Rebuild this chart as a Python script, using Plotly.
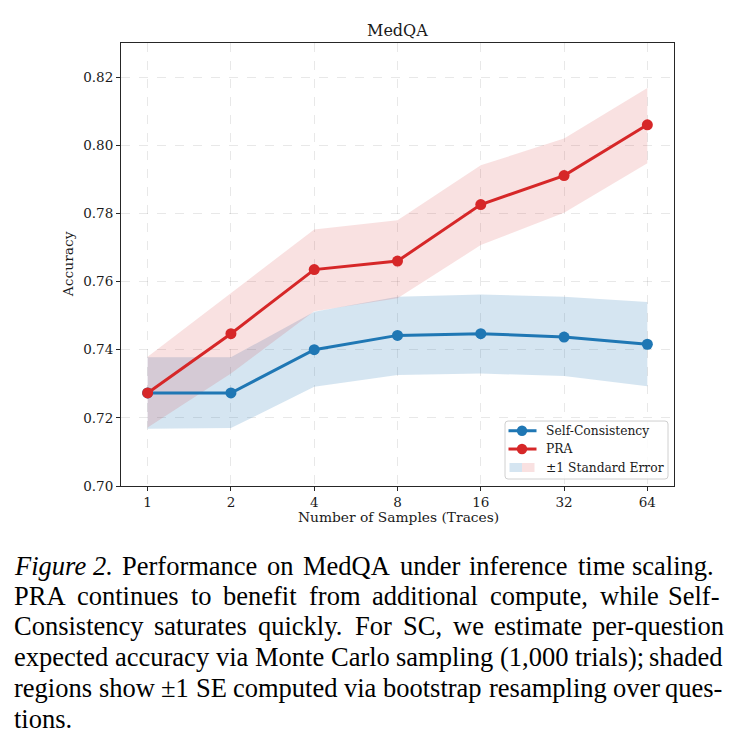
import plotly.graph_objects as go
import math

# ---------------- data ----------------
samples = [1, 2, 4, 8, 16, 32, 64]
tick_labels = ["1", "2", "4", "8", "16", "32", "64"]
y_ticks = [0.70, 0.72, 0.74, 0.76, 0.78, 0.80, 0.82]

sc_acc = [0.7273, 0.7273, 0.7400, 0.7442, 0.7447, 0.7437, 0.7416]
sc_upper = [0.7378, 0.7378, 0.7511, 0.7555, 0.7562, 0.7555, 0.7540]
sc_lower = [0.7168, 0.7170, 0.7291, 0.7326, 0.7330, 0.7323, 0.7293]

pra_acc = [0.7273, 0.7447, 0.7635, 0.7660, 0.7826, 0.7911, 0.8060]
pra_upper = [0.7379, 0.7565, 0.7753, 0.7780, 0.7941, 0.8020, 0.8168]
pra_lower = [0.7172, 0.7330, 0.7513, 0.7551, 0.7707, 0.7802, 0.7947]

series_names = ["Self-Consistency", "PRA"]
band_label = "±1 Standard Error"
title_text = "MedQA"
x_title = "Number of Samples (Traces)"
y_title = "Accuracy"

caption_lines = [
    "<i>Figure</i> <i>2.</i> Performance on MedQA under inference time scaling.",
    "PRA continues to benefit from additional compute, while Self-",
    "Consistency saturates quickly. For SC, we estimate per-question",
    "expected accuracy via Monte Carlo sampling (1,000 trials); shaded",
    "regions show ±1 SE computed via bootstrap resampling over ques-",
    "tions.",
]

# ---------------- styling ----------------
BLUE = "#1f77b4"
RED = "#d62728"
BLUE_FILL = "rgba(31,119,180,0.19)"
RED_FILL = "rgba(214,39,40,0.14)"
CHART_FONT = "DejaVu Serif"
CAP_FONT = "Liberation Serif"

W, H = 740, 751
PL, PR, PT, PB = 121, 674, 42.7, 486  # plot area in pixels


def px(x):
    return (x - PL) / (PR - PL)


def py(y):
    return (PB - y) / (PB - PT)


fig = go.Figure()

# bands
fig.add_trace(go.Scatter(
    x=samples + samples[::-1], y=sc_upper + sc_lower[::-1],
    fill="toself", fillcolor=BLUE_FILL, line=dict(width=0),
    mode="lines", hoverinfo="skip", showlegend=False))
fig.add_trace(go.Scatter(
    x=samples + samples[::-1], y=pra_upper + pra_lower[::-1],
    fill="toself", fillcolor=RED_FILL, line=dict(width=0),
    mode="lines", hoverinfo="skip", showlegend=False))

# lines
fig.add_trace(go.Scatter(
    x=samples, y=sc_acc, mode="lines+markers", name=series_names[0],
    line=dict(color=BLUE, width=3), marker=dict(size=11, color=BLUE),
    showlegend=False))
fig.add_trace(go.Scatter(
    x=samples, y=pra_acc, mode="lines+markers", name=series_names[1],
    line=dict(color=RED, width=3), marker=dict(size=11, color=RED),
    showlegend=False))

xr = [math.log10(2 ** -0.32), math.log10(2 ** 6.32)]

axis_common = dict(
    showline=True, mirror=True, linecolor="#262626", linewidth=1,
    ticks="outside", ticklen=4, tickwidth=1, tickcolor="#262626",
    showgrid=True, gridcolor="rgba(0,0,0,0.09)", griddash="dash", gridwidth=1,
    zeroline=False,
    tickfont=dict(family=CHART_FONT, size=13.5, color="#1a1a1a"),
)

fig.update_xaxes(type="log", range=xr, tickvals=samples, ticktext=tick_labels,
                 **axis_common)
fig.update_yaxes(range=[0.70, 0.83], tickvals=y_ticks,
                 ticktext=[f"{v:.2f}" for v in y_ticks], **axis_common)

shapes = []
annotations = []

# title and axis titles
annotations.append(dict(text=title_text, xref="paper", yref="paper",
                        x=px(397.5), y=py(30), xanchor="center", yanchor="middle",
                        showarrow=False, font=dict(family=CHART_FONT, size=16, color="#1a1a1a")))
annotations.append(dict(text=x_title, xref="paper", yref="paper",
                        x=px(398.5), y=py(517), xanchor="center", yanchor="middle",
                        showarrow=False, font=dict(family=CHART_FONT, size=13.8, color="#1a1a1a")))
annotations.append(dict(text=y_title, xref="paper", yref="paper",
                        x=px(68), y=py(264), xanchor="center", yanchor="middle", textangle=-90,
                        showarrow=False, font=dict(family=CHART_FONT, size=13.8, color="#1a1a1a")))

# ---------------- legend (manual, matplotlib style) ----------------
lx0, lx1, ly0, ly1, r = 505, 668, 421, 479, 3
path = (f"M {px(lx0 + r)},{py(ly0)} L {px(lx1 - r)},{py(ly0)} "
        f"Q {px(lx1)},{py(ly0)} {px(lx1)},{py(ly0 + r)} "
        f"L {px(lx1)},{py(ly1 - r)} Q {px(lx1)},{py(ly1)} {px(lx1 - r)},{py(ly1)} "
        f"L {px(lx0 + r)},{py(ly1)} Q {px(lx0)},{py(ly1)} {px(lx0)},{py(ly1 - r)} "
        f"L {px(lx0)},{py(ly0 + r)} Q {px(lx0)},{py(ly0)} {px(lx0 + r)},{py(ly0)} Z")
shapes.append(dict(type="path", path=path, xref="paper", yref="paper",
                   fillcolor="rgba(255,255,255,0.85)", line=dict(color="#d0d0d0", width=1)))

legend_rows = [430.7, 449.0, 467.5]
for yy, col, name in zip(legend_rows[:2], [BLUE, RED], series_names):
    shapes.append(dict(type="line", xref="paper", yref="paper",
                       x0=px(508.5), x1=px(536.5), y0=py(yy), y1=py(yy),
                       line=dict(color=col, width=3)))
    shapes.append(dict(type="circle", xref="paper", yref="paper",
                       x0=px(522 - 5.2), x1=px(522 + 5.2), y0=py(yy - 5.2), y1=py(yy + 5.2),
                       fillcolor=col, line=dict(color=col, width=0)))
    annotations.append(dict(text=name, xref="paper", yref="paper", x=px(544), y=py(yy),
                            xanchor="left", yanchor="middle", showarrow=False,
                            font=dict(family=CHART_FONT, size=12.3, color="#1a1a1a")))
yy = legend_rows[2]
shapes.append(dict(type="rect", xref="paper", yref="paper",
                   x0=px(509.5), x1=px(522), y0=py(yy - 4.5), y1=py(yy + 4.5),
                   fillcolor=BLUE_FILL, line=dict(width=0)))
shapes.append(dict(type="rect", xref="paper", yref="paper",
                   x0=px(522), x1=px(534.5), y0=py(yy - 4.5), y1=py(yy + 4.5),
                   fillcolor=RED_FILL, line=dict(width=0)))
annotations.append(dict(text=band_label, xref="paper", yref="paper", x=px(544), y=py(yy),
                        xanchor="left", yanchor="middle", showarrow=False,
                        font=dict(family=CHART_FONT, size=12.3, color="#1a1a1a")))

# ---------------- caption (justified, Times metrics) ----------------
TW = {' ': 250, 'a': 444, 'b': 500, 'c': 444, 'd': 500, 'e': 444, 'f': 333, 'g': 500,
      'h': 500, 'i': 278, 'j': 278, 'k': 500, 'l': 278, 'm': 778, 'n': 500, 'o': 500,
      'p': 500, 'q': 500, 'r': 333, 's': 389, 't': 278, 'u': 500, 'v': 500, 'w': 722,
      'x': 500, 'y': 500, 'z': 444, 'A': 722, 'B': 667, 'C': 667, 'D': 722, 'E': 611,
      'F': 556, 'G': 722, 'H': 722, 'I': 333, 'J': 389, 'K': 722, 'L': 611, 'M': 889,
      'N': 722, 'O': 722, 'P': 556, 'Q': 722, 'R': 667, 'S': 556, 'T': 611, 'U': 722,
      'V': 722, 'W': 944, 'X': 722, 'Y': 722, 'Z': 611, '.': 250, ',': 250, '-': 333,
      '(': 333, ')': 333, ';': 278, ':': 278, '±': 564}
for d in "0123456789":
    TW[d] = 500

CAP_SIZE = 26.5
cap_left = 13
cap_rights = [715, 721, 725, 724, 723, None]
baselines = [574.5, 605, 635.5, 666, 697, 728]


def word_width(w):
    plain = w.replace("<i>", "").replace("</i>", "")
    return sum(TW.get(c, 500) for c in plain) / 1000.0 * CAP_SIZE


for line, right, base in zip(caption_lines, cap_rights, baselines):
    words = line.split(" ")
    ymid = py(base - 0.3375 * CAP_SIZE)
    if right is None:
        annotations.append(dict(text=line, xref="paper", yref="paper", x=px(cap_left), y=ymid,
                                xanchor="left", yanchor="middle", showarrow=False, borderpad=0,
                                font=dict(family=CAP_FONT, size=CAP_SIZE, color="black")))
        continue
    widths = [word_width(w) for w in words]
    gap = (right - cap_left - sum(widths)) / (len(words) - 1)
    xpos = cap_left
    for i, (w, ww) in enumerate(zip(words, widths)):
        if i == len(words) - 1:
            annotations.append(dict(text=w, xref="paper", yref="paper", x=px(right), y=ymid,
                                    xanchor="right", yanchor="middle", showarrow=False, borderpad=0,
                                    font=dict(family=CAP_FONT, size=CAP_SIZE, color="black")))
        else:
            annotations.append(dict(text=w, xref="paper", yref="paper", x=px(xpos), y=ymid,
                                    xanchor="left", yanchor="middle", showarrow=False, borderpad=0,
                                    font=dict(family=CAP_FONT, size=CAP_SIZE, color="black")))
        xpos += ww + gap

fig.update_layout(
    width=W, height=H,
    margin=dict(l=PL, r=W - PR, t=PT, b=H - PB, autoexpand=False),
    paper_bgcolor="white", plot_bgcolor="white",
    showlegend=False,
    shapes=shapes, annotations=annotations,
)

fig.write_html("out.html")
